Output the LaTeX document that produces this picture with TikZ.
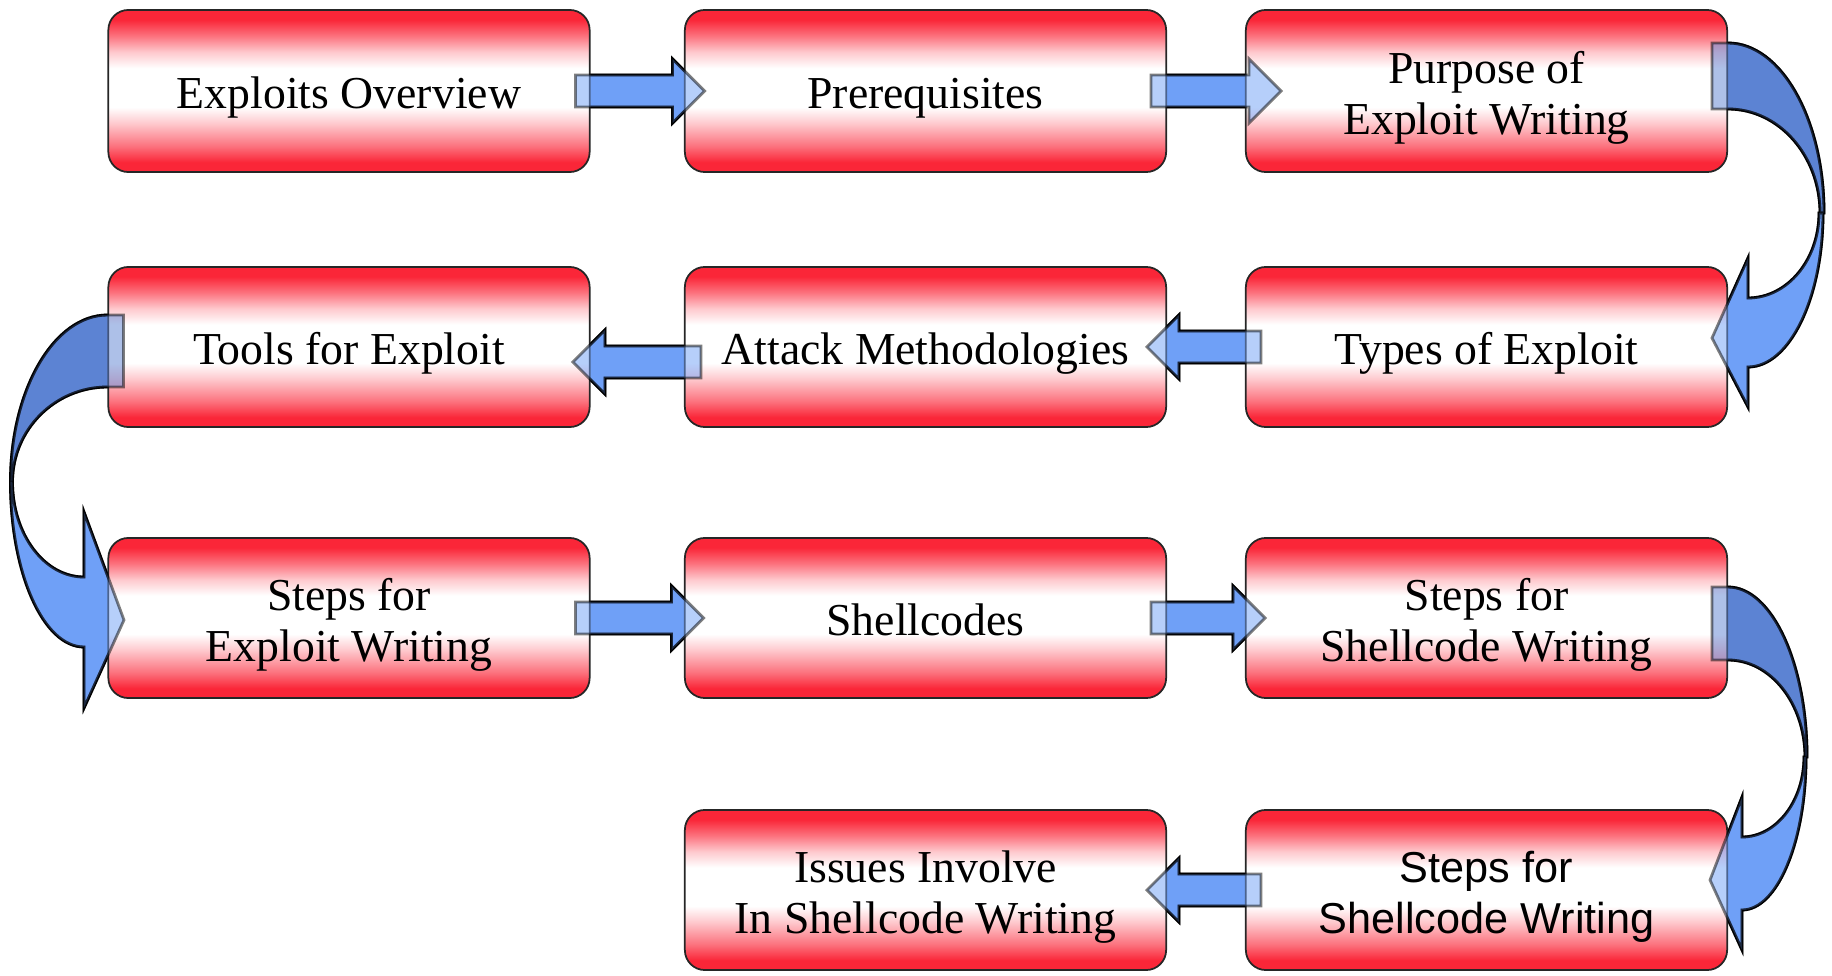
\documentclass[tikz,border=0pt]{standalone}
\usepackage{fontspec}
\setmainfont{Liberation Serif}
\newfontfamily\arialfont{Liberation Sans}
\usetikzlibrary{calc}
\definecolor{boxred}{RGB}{250,38,56}
\colorlet{boxrose}{boxred!65!white}
\colorlet{boxpink}{boxred!25!white}
\definecolor{arrowblue}{RGB}{111,160,247}
\definecolor{arrowdark}{RGB}{92,131,211}
\pgfdeclareverticalshading{redband}{100bp}{color(0bp)=(boxred); color(25bp)=(boxred); color(28bp)=(boxred); color(33bp)=(boxrose); color(40bp)=(boxpink); color(45bp)=(white); color(57bp)=(white); color(62bp)=(boxpink); color(67bp)=(boxrose); color(72bp)=(boxred); color(75bp)=(boxred); color(100bp)=(boxred)}
\pgfdeclarelayer{back}
\pgfdeclarelayer{front}
\pgfsetlayers{back,main,front}
\newcommand{\lines}[1]{\raisebox{-2.2pt}[\height][\depth]{\begin{tabular}{@{}c@{}}#1\end{tabular}}}
\newcommand{\rightblock}[2]{\draw[flat] (#1) ++(0,-16) -- ++(#2-32,0) -- ++(0,-16) -- ++(32,32) -- ++(-32,32) -- ++(0,-16) -- ++(32-#2,0) -- cycle;}
\newcommand{\leftblock}[2]{\draw[flat] (#1) ++(0,-16) -- ++(32-#2,0) -- ++(0,-16) -- ++(-32,32) -- ++(32,32) -- ++(0,-16) -- ++(#2-32,0) -- cycle;}
\newcommand{\linkarrows}{%
  \rightblock{$(Overview.east)+(-15,0)$}{129}
  \rightblock{$(Prerequisites.east)+(-16,0)$}{130}
  \leftblock{$(Types.west)+(16,0)$}{114}
  \leftblock{$(Attack.west)+(17,15)$}{128}
  \rightblock{$(Steps.east)+(-15,0)$}{128}
  \rightblock{$(Shellcodes.east)+(-16,0)$}{114}
  \leftblock{$(ShellSteps2.west)+(16,0)$}{114}
  \coordinate (bend1) at ($(Purpose.east)+(0,-15)$);
  \draw[flatdark] ($(bend1)+(-16,-33)$) -- ++(16,0) arc[start angle=270, end angle=360, x radius=96, y radius=170]
    -- ++(-4,0) arc[start angle=0, end angle=-90, x radius=92, y radius=104] -- ++(-16,0) -- cycle;
  \draw[flat] ($(bend1)+(95,137)$) arc[start angle=0, end angle=90, x radius=75, y radius=154]
    -- ++(0,40) -- ++(-36,-69) -- ++(36,-80) -- ++(0,40) arc[start angle=90, end angle=0, x radius=71, y radius=85] -- cycle;
  \coordinate (bend2) at ($(Tools.west)+(0,4)$);
  \draw[flatdark] ($(bend2)+(16,-36)$) -- ++(-16,0) arc[start angle=270, end angle=180, x radius=97, y radius=167]
    -- ++(2,0) arc[start angle=180, end angle=270, x radius=95, y radius=95] -- ++(16,0) -- cycle;
  \draw[flat] ($(bend2)+(-97,131)$) arc[start angle=180, end angle=90, x radius=73.5, y radius=165]
    -- ++(0,61) -- ++(40,-88) -- ++(-40,-108) -- ++(0,65) arc[start angle=90, end angle=180, x radius=71.5, y radius=95] -- cycle;
  \coordinate (bend3) at ($(ShellSteps.east)+(0,5.5)$);
  \draw[flatdark] ($(bend3)+(-16,-36.5)$) -- ++(16,0) arc[start angle=270, end angle=360, x radius=79, y radius=170]
    -- ++(-2,0) arc[start angle=0, end angle=-90, x radius=77, y radius=97] -- ++(-16,0) -- cycle;
  \draw[flat] ($(bend3)+(78,133.5)$) arc[start angle=0, end angle=90, x radius=64, y radius=153]
    -- ++(0,40) -- ++(-32,-70) -- ++(32,-83) -- ++(0,40) arc[start angle=90, end angle=0, x radius=62, y radius=80] -- cycle;
}

\begin{document}
\begin{tikzpicture}[x=0.01cm, y=-0.01cm, line join=round]
      \tikzstyle{box} = [draw=black!85, line width=0.5pt, rounded corners=0.2cm, shade, shading=redband,
        minimum width=4.81cm, minimum height=1.6cm, inner sep=0pt, font=\fontsize{13}{14.5}\selectfont]
      \tikzstyle{sansbox} = [box, font=\arialfont\fontsize{12.3}{14.5}\selectfont]
      \tikzstyle{flat} = [draw=black, line width=0.8pt, fill=arrowblue]
      \tikzstyle{flatdark} = [flat, fill=arrowdark]
      \useasboundingbox (0,0) rectangle (1832,976);
      \node (Overview) [box, minimum height=1.62cm] at (349,91) {\lines{Exploits Overview}};
      \node (Prerequisites) [box, minimum height=1.62cm] at (925.5,91) {\lines{Prerequisites}};
      \node (Purpose) [box, minimum height=1.62cm] at (1486.5,91) {\lines{Purpose of\\Exploit Writing}};
      \node (Tools) [box] at (349,347) {\lines{Tools for Exploit}};
      \node (Attack) [box] at (925.5,347) {\lines{Attack Methodologies}};
      \node (Types) [box] at (1486.5,347) {\lines{Types of Exploit}};
      \node (Steps) [box] at (349,618) {\lines{Steps for\\Exploit Writing}};
      \node (Shellcodes) [box] at (925.5,618) {\lines{Shellcodes}};
      \node (ShellSteps) [box] at (1486.5,618) {\lines{Steps for\\Shellcode Writing}};
      \node (Issues) [box] at (925.5,890) {\lines{Issues Involve\\In Shellcode Writing}};
      \node (ShellSteps2) [sansbox] at (1486.5,890) {\lines{Steps for\\Shellcode Writing}};
      \begin{pgfonlayer}{back}
        \linkarrows
      \end{pgfonlayer}
      \begin{pgfonlayer}{front}
        \begin{scope}[opacity=0.5]
          \linkarrows
        \end{scope}
      \end{pgfonlayer}
    \end{tikzpicture}
\end{document}
